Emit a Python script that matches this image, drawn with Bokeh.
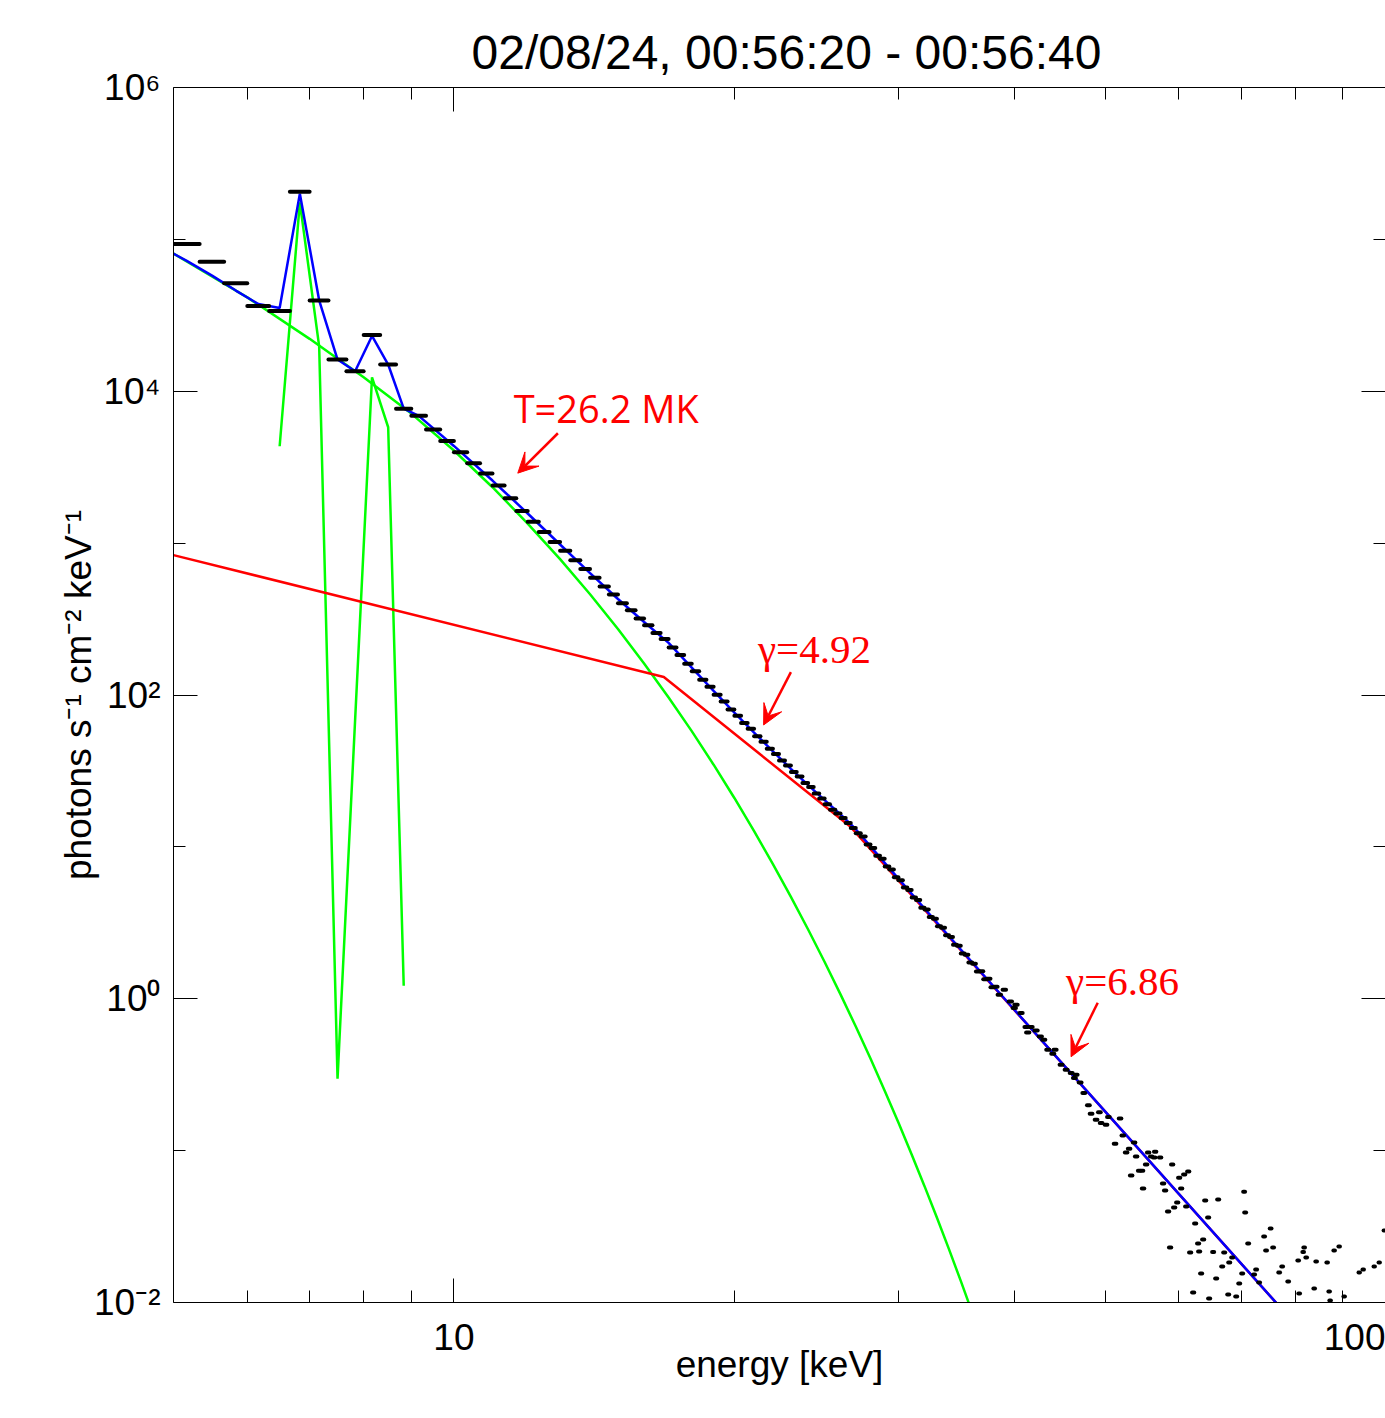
import numpy as np
from bokeh.plotting import figure
from bokeh.models import (LogAxis, FixedTicker, CustomJSTickFormatter, Range1d,
                          Label, Arrow, VeeHead, ColumnDataSource)
from bokeh.embed import file_html
from bokeh.resources import INLINE

# ---------------- data ----------------
# observed spectrum, 1/3-keV bins: bin centre energy [keV] and log10(flux)
data_energy_keV = [
    5.167, 5.5, 5.833, 6.167, 6.5, 6.833, 7.167, 7.5, 7.833, 8.167, 8.5, 8.833,
    9.167, 9.5, 9.833, 10.167, 10.5, 10.833, 11.167, 11.5, 11.833, 12.167, 12.5, 12.833,
    13.167, 13.5, 13.833, 14.167, 14.5, 14.833, 15.167, 15.5, 15.833, 16.167, 16.5, 16.833,
    17.167, 17.5, 17.833, 18.167, 18.5, 18.833, 19.167, 19.5, 19.833, 20.167, 20.5, 20.833,
    21.167, 21.5, 21.833, 22.167, 22.5, 22.833, 23.167, 23.5, 23.833, 24.167, 24.5, 24.833,
    25.167, 25.5, 25.833, 26.167, 26.5, 26.833, 27.167, 27.5, 27.833, 28.167, 28.5, 28.833,
    29.167, 29.5, 29.833, 30.167, 30.5, 30.833, 31.167, 31.5, 31.833, 32.167, 32.5, 32.833,
    33.167, 33.5, 33.833, 34.167, 34.5, 34.833, 35.167, 35.5, 35.833, 36.167, 36.5, 36.833,
    37.167, 37.5, 37.833, 38.167, 38.5,
    38.98, 39.56, 39.95, 40.12, 40.62, 41.13, 41.30, 41.64, 42.16, 42.61,
    42.97, 43.40, 43.94, 44.19, 44.85, 45.41, 45.98, 46.35, 46.55, 47.01,
    47.44, 47.98, 48.30, 48.90, 49.30, 49.51, 50.12, 50.41, 51.25, 51.89,
    52.24, 52.67, 53.06, 53.33, 53.72, 53.99, 54.39, 54.79, 54.92, 55.34,
    55.62, 56.03, 56.45, 56.59, 57.29, 57.71, 58.00, 58.43, 58.72, 59.02,
    59.31, 59.76, 60.05, 60.35, 60.80, 61.10, 61.41, 61.70, 62.16, 62.47,
    62.93, 63.09, 63.40, 63.72, 64.04, 64.51, 64.67, 65.31, 65.80, 66.13,
    66.79, 67.12, 67.79, 67.96, 68.46, 69.14, 69.66, 70.17, 70.51, 70.69,
    71.22, 72.27, 72.63, 73.17, 74.08, 74.44, 75.28, 75.75, 76.89, 77.46,
    78.62, 80.59, 80.79, 81.59, 81.79, 82.20, 83.84, 84.25, 86.57, 87.00,
    87.21, 88.08, 89.18, 90.29, 93.71, 94.64, 97.25, 98.46, 99.69,
]
data_log10_flux = [
    4.969, 4.853, 4.711, 4.561, 4.528, 5.314, 4.597, 4.209, 4.132, 4.370, 4.176, 3.884,
    3.838, 3.748, 3.673, 3.599, 3.526, 3.458, 3.380, 3.296, 3.211, 3.140, 3.074, 3.007,
    2.949, 2.888, 2.829, 2.772, 2.715, 2.662, 2.604, 2.558, 2.503, 2.460, 2.409, 2.368,
    2.312, 2.264, 2.205, 2.157, 2.100, 2.055, 2.001, 1.958, 1.905, 1.864, 1.815, 1.777,
    1.728, 1.693, 1.646, 1.612, 1.568, 1.536, 1.493, 1.464, 1.421, 1.395, 1.352, 1.318,
    1.280, 1.245, 1.220, 1.190, 1.158, 1.125, 1.090, 1.068, 1.015, 0.993, 0.941, 0.921,
    0.870, 0.851, 0.800, 0.781, 0.733, 0.716, 0.666, 0.651, 0.600, 0.588, 0.538, 0.527,
    0.477, 0.467, 0.418, 0.407, 0.356, 0.349, 0.298, 0.290, 0.238, 0.231, 0.180, 0.181,
    0.128, 0.132, 0.075, 0.079, 0.027,
    0.059, -0.018, -0.061, -0.039, -0.094, -0.186, -0.222, -0.186, -0.209, -0.248,
    -0.270, -0.336, -0.362, -0.336, -0.434, -0.467, -0.489, -0.522, -0.500, -0.551,
    -0.620, -0.702, -0.757, -0.796, -0.748, -0.818, -0.829, -0.778, -0.954, -0.789,
    -0.901, -1.013, -0.987, -1.164, -0.947, -1.039, -1.132, -1.132, -1.250, -1.092,
    -1.013, -1.039, -1.046, -1.007, -1.046, -1.217, -1.263, -1.401, -1.638, -1.092,
    -1.375, -1.342, -1.178, -1.250, -1.158, -1.368, -1.138, -1.671, -1.934, -1.480,
    -1.612, -1.664, -1.809, -1.586, -1.329, -1.441, -1.974, -1.668, -1.842, -1.322,
    -1.763, -1.671, -1.947, -1.737, -1.704, -1.961, -1.875, -1.809, -1.270, -1.408,
    -1.612, -1.816, -1.783, -1.868, -1.566, -1.658, -1.513, -1.638, -1.803, -1.763,
    -1.862, -1.724, -1.941, -1.668, -1.638, -1.704, -1.908, -1.730, -1.737, -1.928,
    -1.987, -1.658, -1.632, -1.961, -1.803, -1.783, -1.763, -1.737, -1.526,
]

# thermal continuum (green), T = 26.2 MK
thermal_energy_keV = [5, 6, 7, 8, 9, 10, 11, 12, 13, 14, 15, 16, 17, 18, 19, 20, 21,
                      22, 23, 24, 25, 26, 27, 28, 29, 30, 31, 32, 33, 34, 35, 36, 37]
thermal_log10_flux = [4.906, 4.618, 4.345, 4.092, 3.853, 3.610, 3.368, 3.129, 2.895,
                      2.663, 2.435, 2.208, 1.984, 1.762, 1.541, 1.322, 1.104, 0.887,
                      0.671, 0.456, 0.242, 0.029, -0.183, -0.394, -0.605, -0.815,
                      -1.025, -1.234, -1.442, -1.650, -1.858, -2.065, -2.272]

# thermal line features (green)
lines_energy_keV = [6.5, 6.833, 7.167, 7.5, 7.833, 8.167, 8.5, 8.833]
lines_log10_flux = [3.638, 5.244, 4.296, -0.526, 1.836, 4.092, 3.763, 0.086]

# non-thermal broken power law (red)
nonthermal_energy_keV = [5.0, 16.8, 26.67, 100.0]
nonthermal_log10_flux = [2.921, 2.118, 1.1305, -2.807]

# total model (blue)
total_energy_keV = [4.833, 5.167, 5.5, 5.833, 6.167, 6.5, 6.833, 7.167, 7.5, 7.833,
                    8.167, 8.5, 8.833, 9.167, 10, 11, 12, 13, 14, 15, 16, 17, 18, 19,
                    20, 21, 22, 23, 24, 25, 26, 27, 28, 29, 30, 32, 35, 40, 50, 60,
                    70, 80, 100]
total_log10_flux = [4.955, 4.858, 4.761, 4.663, 4.574, 4.548, 5.301, 4.599, 4.209,
                    4.132, 4.364, 4.176, 3.886, 3.838, 3.640, 3.412, 3.195, 2.991,
                    2.802, 2.632, 2.481, 2.343, 2.180, 2.027, 1.884, 1.752, 1.629,
                    1.514, 1.407, 1.308, 1.214, 1.116, 1.003, 0.895, 0.791, 0.594,
                    0.324, -0.076, -0.742, -1.285, -1.744, -2.142, -2.807]

x_major_ticks = [10, 100]
x_minor_ticks = [6, 7, 8, 9, 20, 30, 40, 50, 60, 70, 80, 90]
y_major_ticks = [1e-2, 1, 1e2, 1e4, 1e6]
y_minor_ticks = [1e-1, 1e1, 1e3, 1e5]

title_text = "02/08/24, 00:56:20 - 00:56:40"
x_label = "energy [keV]"
y_label = "photons s\u207b\u00b9 cm\u207b\u00b2 keV\u207b\u00b9"

# annotation texts and anchors (energy keV, flux)
ann_T = dict(text="T=26.2 MK", x=11.59, y=6250)
ann_g1 = dict(text="\u03b3=4.92", x=21.2, y=162)
ann_g2 = dict(text="\u03b3=6.86", x=45.4, y=1.06)
arrows = [
    (12.93, 5290, 11.71, 2890),
    (23.0, 141.6, 21.5, 63.5),
    (49.1, 0.941, 45.97, 0.415),
]

HALF_BIN = 1.0 / 6.0

# ---------------- figure ----------------
p = figure(width=1385, height=1418, x_axis_type="log", y_axis_type="log",
           x_range=Range1d(5, 100), y_range=Range1d(1e-2, 1e6),
           output_backend="svg", toolbar_location=None,
           min_border_left=173, min_border_right=0, min_border_top=87,
           min_border_bottom=116,
           background_fill_color="white", border_fill_color="white")
p.xgrid.visible = False
p.ygrid.visible = False
p.outline_line_color = None

p.title.text = title_text
p.title.align = "left"
p.title.offset = 298
p.title.standoff = 18
p.title.text_font = "Liberation Sans"
p.title.text_font_size = "48px"
p.title.text_font_style = "normal"
p.title.text_color = "black"

sup_js = """
const sup = {"-": "\u207b", "0": "\u2070", "1": "\u00b9", "2": "\u00b2", "3": "\u00b3",
             "4": "\u2074", "5": "\u2075", "6": "\u2076", "7": "\u2077", "8": "\u2078", "9": "\u2079"};
const e = Math.round(Math.log10(tick));
let s = "";
for (const c of String(e)) { s += sup[c]; }
return "10" + s;
"""
x_fmt = CustomJSTickFormatter(code="return String(Math.round(tick));")
y_fmt = CustomJSTickFormatter(code=sup_js)
blank_fmt = CustomJSTickFormatter(code="return '';")


def style_axis(ax, major, minor):
    ax.ticker = FixedTicker(ticks=major, minor_ticks=minor)
    ax.major_tick_in = 24
    ax.major_tick_out = 0
    ax.minor_tick_in = 12
    ax.minor_tick_out = 0
    ax.axis_line_color = "black"
    ax.axis_line_width = 1
    ax.major_tick_line_color = "black"
    ax.minor_tick_line_color = "black"
    ax.major_tick_line_width = 1
    ax.minor_tick_line_width = 1
    ax.major_label_text_font = "Liberation Sans"
    ax.major_label_text_font_size = "37px"
    ax.major_label_text_color = "black"
    ax.axis_label_text_font = "Liberation Sans"
    ax.axis_label_text_font_size = "37px"
    ax.axis_label_text_font_style = "normal"
    ax.axis_label_text_color = "black"


xa = p.xaxis[0]
style_axis(xa, x_major_ticks, x_minor_ticks)
xa.formatter = x_fmt
xa.axis_label = x_label
xa.major_label_standoff = 21
xa.axis_label_standoff = -9

ya = p.yaxis[0]
style_axis(ya, y_major_ticks, y_minor_ticks)
ya.formatter = y_fmt
ya.axis_label = y_label
ya.major_label_standoff = 13
ya.axis_label_standoff = -8

top = LogAxis()
style_axis(top, x_major_ticks, x_minor_ticks)
top.formatter = blank_fmt
top.major_label_standoff = 0
top.major_label_text_font_size = "1px"
p.add_layout(top, "above")

right = LogAxis()
style_axis(right, y_major_ticks, y_minor_ticks)
right.formatter = blank_fmt
right.major_label_standoff = 0
right.major_label_text_font_size = "1px"
right.axis_line_color = None
p.add_layout(right, "right")

# ---------------- glyphs ----------------
p.line(thermal_energy_keV, [10 ** v for v in thermal_log10_flux],
       line_color="#00ff00", line_width=2.5)
p.line(lines_energy_keV, [10 ** v for v in lines_log10_flux],
       line_color="#00ff00", line_width=2.5)
p.line(nonthermal_energy_keV, [10 ** v for v in nonthermal_log10_flux],
       line_color="#ff0000", line_width=2.5)
p.line(total_energy_keV, [10 ** v for v in total_log10_flux],
       line_color="#0000ff", line_width=2.5)

de = np.array(data_energy_keV)
src = ColumnDataSource(dict(x0=de - HALF_BIN, x1=de + HALF_BIN,
                            y=10 ** np.array(data_log10_flux)))
p.segment(x0="x0", x1="x1", y0="y", y1="y", source=src,
          line_color="black", line_width=4, line_cap="round")

# ---------------- annotations ----------------
p.add_layout(Label(x=ann_T["x"], y=ann_T["y"], text=ann_T["text"],
                   text_font="Open Sans", text_font_size="38px", y_offset=14,
                   text_color="red", text_baseline="alphabetic", text_align="left"))
for a in (ann_g1, ann_g2):
    p.add_layout(Label(x=a["x"], y=a["y"], text=a["text"],
                       text_font="Liberation Serif", text_font_size="41px", y_offset=14,
                       text_color="red", text_baseline="alphabetic", text_align="left"))
for (xs, ys, xe, ye) in arrows:
    p.add_layout(Arrow(end=VeeHead(size=20, fill_color="red", line_color="red", line_width=1),
                       x_start=xs, y_start=ys, x_end=xe, y_end=ye,
                       line_color="red", line_width=2.5))

open("out.html", "w").write(file_html(p, INLINE))
